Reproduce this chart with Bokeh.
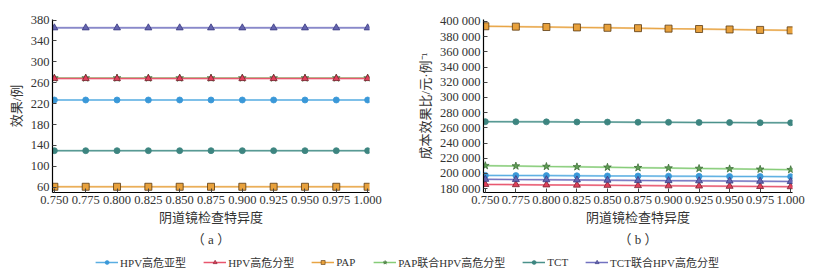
from bokeh.plotting import figure
from bokeh.layouts import column, row
from bokeh.models import FixedTicker, Legend, LegendItem, ColumnDataSource, Range1d
from bokeh.embed import file_html
from bokeh.resources import INLINE

# ---------------- data ----------------
specificity = [0.750, 0.775, 0.800, 0.825, 0.850, 0.875, 0.900, 0.925, 0.950, 0.975, 1.000]
series_names = ["HPV高危亚型", "HPV高危分型", "PAP", "PAP联合HPV高危分型", "TCT", "TCT联合HPV高危分型"]

# panel (a): effect (cases)
eff_hpv_subtype = [227] * 11
eff_hpv_typing = [268] * 11
eff_pap = [61] * 11
eff_pap_hpv = [269] * 11
eff_tct = [130] * 11
eff_tct_hpv = [365] * 11

# panel (b): cost-effectiveness ratio (yuan per case)
cer_hpv_subtype = [197500, 197300, 197200, 197000, 196800, 196700, 196500, 196300, 196100, 196000, 195800]
cer_hpv_typing = [185600, 185300, 185000, 184700, 184400, 184100, 183800, 183500, 183200, 182900, 182600]
cer_pap = [393600, 393100, 392600, 392100, 391600, 391100, 390500, 390000, 389400, 388800, 388200]
cer_pap_hpv = [210300, 209800, 209200, 208700, 208200, 207600, 207100, 206600, 206100, 205500, 205000]
cer_tct = [268200, 268000, 267900, 267700, 267600, 267400, 267300, 267100, 267000, 266800, 266700]
cer_tct_hpv = [192300, 192000, 191800, 191500, 191200, 190900, 190600, 190400, 190100, 189800, 189500]

x_ticks = specificity
y_ticks_a = [60, 100, 140, 180, 220, 260, 300, 340, 380]
y_ticks_b = [180000, 200000, 220000, 240000, 260000, 280000, 300000, 320000, 340000, 360000, 380000, 400000]

# ---------------- styles ----------------
FONT = "Liberation Serif, Noto Sans CJK SC"
TXT = "#333333"
styles = [
    dict(line="#5aaee2", fill="#3a98d8", outline="#3a98d8", marker="circle", size=6),
    dict(line="#e8566e", fill="#e0405a", outline="#7a2030", marker="triangle", size=7),
    dict(line="#e8a444", fill="#e8a13c", outline="#5a3a12", marker="square", size=7),
    dict(line="#86cc78", fill="#5f9e55", outline="#3f6e38", marker="star", size=8),
    dict(line="#4a918b", fill="#3d8580", outline="#3d8580", marker="circle", size=6),
    dict(line="#7272c0", fill="#6565b0", outline="#3a3a80", marker="triangle", size=7),
]
draw_order = [0, 3, 1, 2, 4, 5]


def make_fig(width, left, right, title, ylabel, yrange, yticks, ydata, overrides=None):
    p = figure(width=width, height=250, output_backend="svg", toolbar_location=None,
               x_range=Range1d(0.7485, 1.0015), y_range=Range1d(*yrange),
               min_border_left=left, min_border_right=right, min_border_top=19,
               min_border_bottom=58, title=title, title_location="below")
    p.outline_line_color = None
    p.grid.visible = False
    p.title.align = "center"
    p.title.text_font = FONT
    p.title.text_font_size = "13px"
    p.title.text_font_style = "normal"
    p.title.text_color = TXT
    p.title.standoff = 4
    for ax in (p.xaxis[0], p.yaxis[0]):
        ax.axis_line_color = "black"
        ax.axis_line_width = 1.2
        ax.major_tick_in = 4
        ax.major_tick_out = 0
        ax.minor_tick_line_color = None
        ax.major_tick_line_color = "#444444"
        ax.major_label_text_font = FONT
        ax.major_label_text_font_size = "12.5px"
        ax.major_label_text_color = TXT
        ax.axis_label_text_font = FONT
        ax.axis_label_text_font_size = "13px"
        ax.axis_label_text_font_style = "normal"
        ax.axis_label_text_color = TXT
    p.xaxis.ticker = FixedTicker(ticks=x_ticks)
    p.xaxis.major_label_overrides = {v: f"{v:.3f}" for v in x_ticks}
    p.xaxis.axis_label = "阴道镜检查特异度"
    p.xaxis.major_label_standoff = 3
    p.xaxis.axis_label_standoff = 3
    p.yaxis.ticker = FixedTicker(ticks=yticks)
    if overrides:
        p.yaxis.major_label_overrides = overrides
    p.yaxis.axis_label = ylabel
    p.yaxis.major_label_standoff = 3
    p.yaxis.axis_label_standoff = 4
    for i in draw_order:
        ys, st = ydata[i], styles[i]
        p.line(specificity, ys, line_color=st["line"], line_width=2, line_alpha=0.55)
        p.line(specificity, ys, line_color=st["line"], line_width=1)
        p.scatter(specificity, ys, marker=st["marker"], size=st["size"],
                  fill_color=st["fill"], line_color=st["outline"], line_width=0.8)
    return p


p1 = make_fig(400, 52, 31, "（ a ）", "效果/例", (50, 381), y_ticks_a,
              [eff_hpv_subtype, eff_hpv_typing, eff_pap, eff_pap_hpv, eff_tct, eff_tct_hpv])

ov_b = {v: f"{v:,}".replace(",", " ") for v in y_ticks_b}
p2 = make_fig(414, 83, 22, "（ b ）", "成本效果比/元·例⁻¹", (175000, 402500), y_ticks_b,
              [cer_hpv_subtype, cer_hpv_typing, cer_pap, cer_pap_hpv, cer_tct, cer_tct_hpv],
              overrides=ov_b)

# ---------------- legend strip ----------------
pl = figure(width=814, height=23, output_backend="svg", toolbar_location=None,
            x_range=Range1d(0, 1), y_range=Range1d(0, 1), min_border=0)
pl.axis.visible = False
pl.grid.visible = False
pl.outline_line_color = None
items = []
for name, st in zip(series_names, styles):
    src = ColumnDataSource(dict(x=[-10.0], y=[-10.0]))
    r1 = pl.line("x", "y", source=src, line_color=st["line"], line_width=1.5)
    r2 = pl.scatter("x", "y", source=src, marker=st["marker"], size=st["size"] - 2,
                    fill_color=st["fill"], line_color=st["outline"], line_width=0.6)
    items.append(LegendItem(label=name, renderers=[r1, r2]))
leg = Legend(items=items, orientation="horizontal", location="center",
             label_text_font=FONT, label_text_font_size="11px", label_text_color=TXT,
             glyph_width=23, glyph_height=10, spacing=17, padding=0, margin=0,
             label_standoff=2, border_line_alpha=0, background_fill_alpha=0)
pl.add_layout(leg, "center")

layout = column(row(p1, p2), pl)
open("out.html", "w").write(file_html(layout, INLINE))
